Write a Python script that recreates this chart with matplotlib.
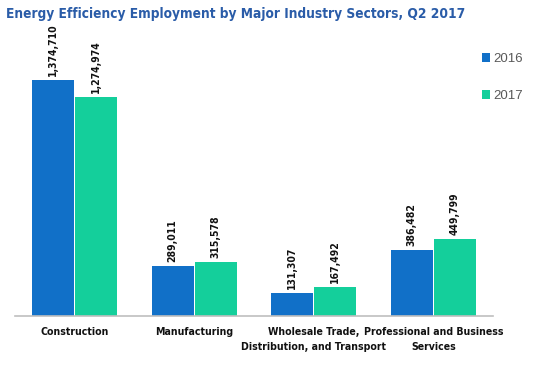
import matplotlib

matplotlib.use("Agg")
import matplotlib.pyplot as plt
import numpy as np
from matplotlib import font_manager
from matplotlib.transforms import blended_transform_factory

sectors = [
    "Construction",
    "Manufacturing",
    "Wholesale Trade,\nDistribution, and Transport",
    "Professional and Business\nServices",
]
jobs_2016 = [1374710, 289011, 131307, 386482]
jobs_2017 = [1274974, 315578, 167492, 449799]
years = ["2016", "2017"]

names = sorted({f.name for f in font_manager.fontManager.ttflist})
narrow = "Liberation Sans Narrow" if "Liberation Sans Narrow" in names else "DejaVu Sans"
cond = dict(family=narrow, stretch="condensed")

c16 = "#1170c8"
c17 = "#14cf9b"

fig = plt.figure(figsize=(5.54, 3.78), dpi=100)
ax = fig.add_axes([0.027, 0.164, 0.863, 0.756])

x = np.arange(len(sectors))
w = 0.35
b1 = ax.bar(x - w / 2 - 0.005, jobs_2016, width=w, color=c16, label=years[0])
b2 = ax.bar(x + w / 2 + 0.005, jobs_2017, width=w, color=c17, label=years[1])

for bars in (b1, b2):
    for r in bars:
        h = r.get_height()
        ax.annotate(f"{h:,.0f}", (r.get_x() + r.get_width() / 2, h),
                    xytext=(0, 3), textcoords="offset points",
                    rotation=90, ha="center", va="bottom",
                    fontsize=7.5, fontweight="bold", color="#111111", **cond)

ax.set_xlim(-0.5, len(sectors) - 0.5)
ax.set_ylim(0, 1666000)
ax.set_xticks([])
ax.set_yticks([])
for s in ("top", "right", "left"):
    ax.spines[s].set_visible(False)
ax.spines["bottom"].set_color("#bfbfbf")
ax.spines["bottom"].set_linewidth(1.2)

# category labels, one text per line so wrapped lines sit cleanly
tr = blended_transform_factory(ax.transData, ax.transAxes)
for xi, name in zip(x, sectors):
    for k, line in enumerate(name.split("\n")):
        ax.annotate(line, (xi, 0), xycoords=tr, xytext=(0, -8 - k * 10.5),
                    textcoords="offset points", ha="center", va="top",
                    fontsize=7.6, fontweight="bold", color="#111111", **cond)

leg = ax.legend(loc="upper left", bbox_to_anchor=(0.977, 0.92), frameon=False,
                borderpad=0, borderaxespad=0,
                handlelength=0.6, handleheight=0.6, handletextpad=0.25,
                labelspacing=1.9, prop=dict(family="Liberation Sans", size=9.5))
for t in leg.get_texts():
    t.set_color("#595959")

fig.text(0.010, 0.962, "Energy Efficiency Employment by Major Industry Sectors, Q2 2017",
         fontsize=9.8, fontweight="bold", color="#2a5ca8", va="center", **cond)

fig.savefig("out.png", dpi=100)
